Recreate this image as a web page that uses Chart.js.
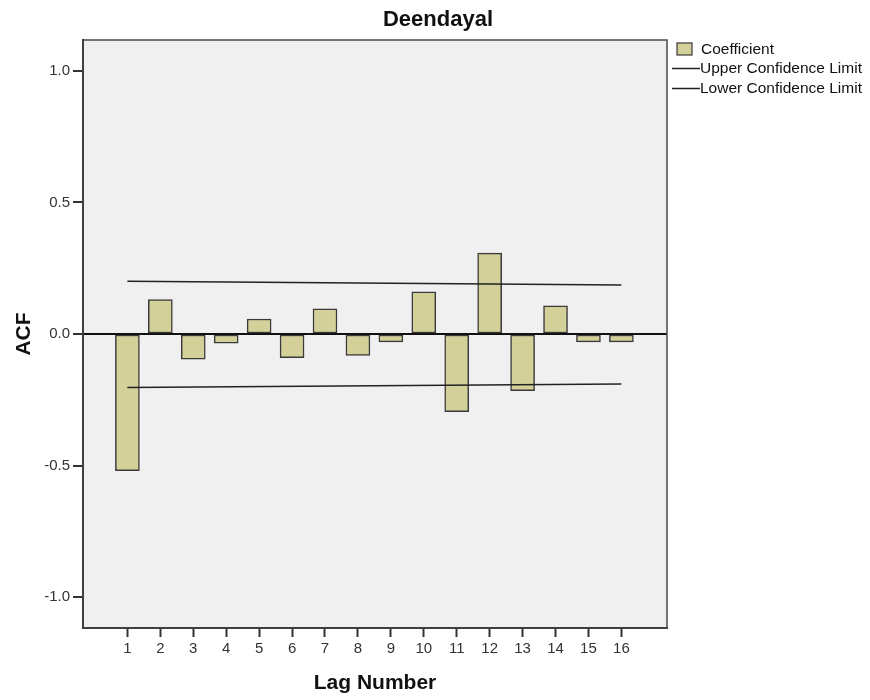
<!DOCTYPE html>
<html>
<head>
<meta charset="utf-8">
<title>Deendayal</title>
<script src="https://cdn.jsdelivr.net/npm/chart.js@4.4.1/dist/chart.umd.min.js"></script>
<style>
    body { margin: 0; background: #fff; }
    canvas { display: block; }
</style>
</head>
<body>
<canvas id="acfChart" width="870" height="700"></canvas>
<script>
const lags = [1, 2, 3, 4, 5, 6, 7, 8, 9, 10, 11, 12, 13, 14, 15, 16]
const coefficient = [-0.519, 0.131, -0.096, -0.035, 0.057, -0.090, 0.096, -0.081, -0.030, 0.160, -0.295, 0.307, -0.215, 0.107, -0.030, -0.030]
const upperLimit = [[1, 0.200], [16, 0.186]]
const lowerLimit = [[1, -0.203], [16, -0.190]]
const yTicks = [-1.0, -0.5, 0.0, 0.5, 1.0]

const fontFamily = '"Liberation Sans", Arial, sans-serif'
const barFill = '#d4d09a'
const barEdge = '#3a3a3a'

const plotFrame = {
    id: 'plotFrame',
    beforeDraw(chart) {
        const {ctx, chartArea: a} = chart
        ctx.save()
        ctx.fillStyle = '#f0f0f0'
        ctx.fillRect(a.left, a.top, a.right - a.left, a.bottom - a.top)
        ctx.restore()
    },
    afterDraw(chart) {
        const {ctx, chartArea: a} = chart
        ctx.save()
        ctx.strokeStyle = '#4a4a4a'
        ctx.lineWidth = 1.5
        ctx.strokeRect(a.left, a.top, a.right - a.left, a.bottom - a.top)

        // title is centred on the whole picture, not on the plot
        ctx.font = 'bold 22px ' + fontFamily
        ctx.fillStyle = '#111'
        ctx.textAlign = 'center'
        ctx.textBaseline = 'middle'
        ctx.fillText('Deendayal', 438, 20)

        // legend on the right
        ctx.fillStyle = barFill
        ctx.fillRect(677, 43, 15, 12)
        ctx.strokeStyle = barEdge
        ctx.lineWidth = 1.2
        ctx.strokeRect(677, 43, 15, 12)
        ctx.strokeStyle = '#222'
        ctx.lineWidth = 1.5
        ctx.beginPath()
        ctx.moveTo(672, 68.5); ctx.lineTo(700, 68.5)
        ctx.moveTo(672, 88.5); ctx.lineTo(700, 88.5)
        ctx.stroke()

        ctx.textAlign = 'left'
        ctx.font = '14px ' + fontFamily
        const w = ctx.measureText('Upper Confidence Limit').width
        const size = 14 * 162 / w
        ctx.font = size + 'px ' + fontFamily
        ctx.fillStyle = '#111'
        ctx.fillText('Coefficient', 701, 50)
        ctx.fillText('Upper Confidence Limit', 700, 69)
        ctx.fillText('Lower Confidence Limit', 700, 89)
        ctx.restore()
    }
}

const dataChart = {
    datasets: [{
        type: 'line',
        label: 'Upper Confidence Limit',
        data: upperLimit.map(p => ({x: p[0], y: p[1]})),
        borderColor: '#222',
        borderWidth: 1.5,
        pointRadius: 0,
        order: 1,
    }, {
        type: 'line',
        label: 'Lower Confidence Limit',
        data: lowerLimit.map(p => ({x: p[0], y: p[1]})),
        borderColor: '#222',
        borderWidth: 1.5,
        pointRadius: 0,
        order: 1,
    }, {
        type: 'bar',
        label: 'Coefficient',
        data: lags.map((lag, i) => ({x: lag, y: coefficient[i]})),
        backgroundColor: barFill,
        borderColor: barEdge,
        borderWidth: 1.5,
        borderSkipped: false,
        barThickness: 24,
        order: 2,
    }]
}

const config = {
    type: 'bar',
    data: dataChart,
    plugins: [plotFrame],
    options: {
        responsive: false,
        animation: false,
        events: [],
        layout: { padding: { left: 0, right: 203, top: 40, bottom: 0 } },
        plugins: {
            legend: { display: false },
            tooltip: { enabled: false },
            title: { display: false },
        },
        scales: {
            x: {
                type: 'linear',
                offset: false,
                min: -0.348,
                max: 17.385,
                afterBuildTicks: (s) => { s.ticks = lags.map(v => ({value: v})) },
                afterFit: (s) => { s.height = 72 },
                ticks: {
                    color: '#333',
                    font: { family: fontFamily, size: 15 },
                    padding: 3,
                    maxRotation: 0,
                    autoSkip: false,
                },
                grid: {
                    offset: false,
                    drawOnChartArea: false,
                    tickLength: 9,
                    tickColor: '#333',
                    tickWidth: 2,
                },
                border: { color: '#222', width: 2 },
                title: {
                    display: true,
                    text: 'Lag Number',
                    color: '#111',
                    font: { family: fontFamily, size: 21, weight: 'bold' },
                    padding: { top: 4, bottom: 4 },
                },
            },
            y: {
                min: -1.117,
                max: 1.117,
                afterBuildTicks: (s) => { s.ticks = yTicks.map(v => ({value: v})) },
                afterFit: (s) => { s.width = 83 },
                ticks: {
                    color: '#333',
                    font: { family: fontFamily, size: 15 },
                    padding: 3,
                    callback: (v) => v.toFixed(1),
                },
                grid: {
                    color: (c) => (c.tick && c.tick.value === 0) ? '#111' : 'rgba(0,0,0,0)',
                    lineWidth: 2,
                    tickLength: 10,
                    tickColor: '#333',
                    tickWidth: 2,
                },
                border: { color: '#222', width: 2 },
                title: {
                    display: true,
                    text: 'ACF',
                    color: '#111',
                    font: { family: fontFamily, size: 21, weight: 'bold' },
                    padding: { top: 12, bottom: 12 },
                },
            },
        },
    },
}

const myChart = new Chart(document.getElementById('acfChart'), config)
</script>
</body>
</html>
